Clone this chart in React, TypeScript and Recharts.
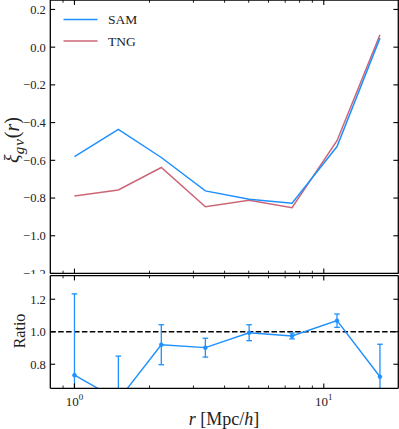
import React from 'react';
import { LineChart, Line, XAxis, YAxis, ReferenceLine, ReferenceArea, ErrorBar, Legend } from 'recharts';

// ---- data ----
const rBins = [1.0, 1.5, 2.23, 3.35, 5.02, 7.46, 11.3, 16.8];
const samXi = [-0.58, -0.436, -0.585, -0.762, -0.806, -0.828, -0.527, 0.048];
const tngXi = [-0.789, -0.757, -0.638, -0.846, -0.812, -0.851, -0.496, 0.066];
const ratioVals = [0.733, 0.58, 0.92, 0.902, 0.994, 0.974, 1.068, 0.723];
const ratioErr = [0.5, 0.27, 0.123, 0.058, 0.049, 0.018, 0.041, 0.2];
const xTicks = [0.9, 1, 2, 3, 4, 5, 6, 7, 8, 9, 10];
const xMajor = [1, 10];
const xiTicks = [-1.2, -1.0, -0.8, -0.6, -0.4, -0.2, 0.0, 0.2];
const ratioTicks = [0.8, 1.0, 1.2];
const seriesNames = ['SAM', 'TNG'];
const seriesColors = ['#1E90FF', '#CC6677'];

const topData = rBins.map((r, i) => ({ r, SAM: samXi[i], TNG: tngXi[i] }));
const ratioData = rBins.map((r, i) => ({ r, ratio: ratioVals[i], err: ratioErr[i] }));

const X_DOMAIN: [number, number] = [0.8, 19.9];
const XI_DOMAIN: [number, number] = [-1.2, 0.25];
const RATIO_DOMAIN: [number, number] = [0.652, 1.346];

const FONT = '"Liberation Serif", "DejaVu Serif", serif';
const TXT = '#222';
const frame = { stroke: '#000', strokeWidth: 1.3 };
const EPS = 0.01;

const fmt = (v: number) => {
  const s = Math.abs(v).toFixed(1);
  return v < -1e-9 ? '\u2212' + s : s;
};

const XTick = (props: any) => {
  const { x, y, payload, dir, labelOnly } = props;
  const v = payload.value;
  const major = xMajor.includes(v);
  if (labelOnly) {
    if (!major) return <g />;
    return (
      <text x={x} y={y + 18} textAnchor="middle" fontFamily={FONT} fontSize={13} fill={TXT}>
        10
        <tspan dy={-6} fontSize={9}>{Math.round(Math.log10(v))}</tspan>
      </text>
    );
  }
  const len = major ? 4.9 : 2.8;
  const y2 = dir === 'up' ? y - len : y + len;
  return <line x1={x} x2={x} y1={y} y2={y2} stroke="#000" strokeWidth={major ? 1.1 : 0.85} />;
};

const YTick = (props: any) => {
  const { x, y, payload, side } = props;
  const len = 4.9;
  if (side === 'right') {
    return <line x1={x} x2={x - len} y1={y} y2={y} stroke="#000" strokeWidth={1.1} />;
  }
  return (
    <g>
      <line x1={x} x2={x + len} y1={y} y2={y} stroke="#000" strokeWidth={1.1} />
      <text x={x - 4.5} y={y} dy="0.35em" textAnchor="end" fontFamily={FONT} fontSize={12.5} fill={TXT}>
        {fmt(payload.value)}
      </text>
    </g>
  );
};

const renderLegend = () => (
  <svg width={110} height={52} style={{ display: 'block' }}>
    {seriesNames.map((name, i) => {
      const y = 19.5 + i * 21.5;
      return (
        <g key={name}>
          <line x1={8.5} x2={42.5} y1={y} y2={y} stroke={seriesColors[i]} strokeWidth={1.5} />
          <text x={53} y={y} dy="0.36em" fontFamily={FONT} fontSize={13.5} fill={TXT}>{name}</text>
        </g>
      );
    })}
  </svg>
);

const xAxisCommon = {
  dataKey: 'r', type: 'number' as const, scale: 'log' as const, domain: X_DOMAIN, allowDataOverflow: true,
  ticks: xTicks, interval: 0, tickSize: 0, tickMargin: 0, tickLine: false,
};

export default function App() {
  return (
    <div style={{ position: 'absolute', left: 0, top: 0, width: 399, height: 429, background: '#fff' }}>
      {/* upper panel */}
      <div style={{ position: 'absolute', left: 0, top: 0 }}>
        <LineChart width={399} height={274} data={topData} margin={{ top: 0, right: 0.7, bottom: 0.5, left: 0.3 }}>
          <XAxis xAxisId="b" {...xAxisCommon} height={EPS} axisLine={frame}
            tick={(p: any) => <XTick {...p} dir="up" />} />
          <XAxis xAxisId="t" orientation="top" {...xAxisCommon} height={EPS} axisLine={frame}
            tick={(p: any) => <XTick {...p} dir="down" />} />
          <YAxis yAxisId="l" type="number" domain={XI_DOMAIN} allowDataOverflow ticks={xiTicks} interval={0}
            width={50} tickSize={0} tickMargin={0} tickLine={false} axisLine={frame}
            tick={(p: any) => <YTick {...p} side="left" />} />
          <YAxis yAxisId="r" orientation="right" type="number" domain={XI_DOMAIN} allowDataOverflow ticks={xiTicks} interval={0}
            width={EPS} tickSize={0} tickMargin={0} tickLine={false} axisLine={frame}
            tick={(p: any) => <YTick {...p} side="right" />} />
          <ReferenceArea xAxisId="b" yAxisId="l" fill="none" stroke="#000" strokeWidth={1.3} />
          <Line xAxisId="b" yAxisId="l" dataKey="TNG" stroke={seriesColors[1]} strokeWidth={1.5} dot={false} isAnimationActive={false} />
          <Line xAxisId="b" yAxisId="l" dataKey="SAM" stroke={seriesColors[0]} strokeWidth={1.5} dot={false} isAnimationActive={false} />
          <Legend layout="vertical" align="center" verticalAlign="middle" content={renderLegend}
            wrapperStyle={{ left: 55, top: 0, width: 110, height: 52 }} />
        </LineChart>
      </div>
      {/* ratio panel (svg ends at plot bottom so overflowing error bars are clipped) */}
      <div style={{ position: 'absolute', left: 0, top: 275 }}>
        <LineChart width={399} height={114} data={ratioData} margin={{ top: 0.5, right: 0.7, bottom: 0.7, left: 0.3 }}>
          <XAxis xAxisId="b" {...xAxisCommon} height={EPS} axisLine={frame}
            tick={(p: any) => <XTick {...p} dir="up" />} />
          <XAxis xAxisId="t" orientation="top" {...xAxisCommon} height={EPS} axisLine={frame}
            tick={(p: any) => <XTick {...p} dir="down" />} />
          <YAxis yAxisId="l" type="number" domain={RATIO_DOMAIN} allowDataOverflow ticks={ratioTicks} interval={0}
            width={50} tickSize={0} tickMargin={0} tickLine={false} axisLine={frame}
            tick={(p: any) => <YTick {...p} side="left" />} />
          <YAxis yAxisId="r" orientation="right" type="number" domain={RATIO_DOMAIN} allowDataOverflow ticks={ratioTicks} interval={0}
            width={EPS} tickSize={0} tickMargin={0} tickLine={false} axisLine={frame}
            tick={(p: any) => <YTick {...p} side="right" />} />
          <ReferenceArea xAxisId="b" yAxisId="l" fill="none" stroke="#000" strokeWidth={1.3} />
          <ReferenceLine xAxisId="b" yAxisId="l" y={1} stroke="#000" strokeWidth={1.4} strokeDasharray="5.5 2.4" />
          <Line xAxisId="b" yAxisId="l" dataKey="ratio" stroke={seriesColors[0]} strokeWidth={1.4}
            dot={{ r: 2, fill: seriesColors[0], stroke: seriesColors[0], strokeWidth: 0.5 }} isAnimationActive={false}>
            <ErrorBar dataKey="err" direction="y" width={2.8} stroke={seriesColors[0]} strokeWidth={1.3} isAnimationActive={false} />
          </Line>
        </LineChart>
      </div>
      {/* x tick labels of the ratio panel, same log scale */}
      <div style={{ position: 'absolute', left: 0, top: 379 }}>
        <LineChart width={399} height={50} data={ratioData} margin={{ top: 0, right: 0.7, bottom: 0, left: 50.3 }}>
          <XAxis xAxisId="b" {...xAxisCommon} height={40.7} axisLine={false}
            tick={(p: any) => <XTick {...p} labelOnly />} />
        </LineChart>
      </div>
      <div style={{ position: 'absolute', left: 12, top: 140, transform: 'translate(-50%, -50%) rotate(-90deg)',
        fontFamily: FONT, fontSize: 20, color: TXT, whiteSpace: 'nowrap', lineHeight: 1 }}>
        <i>ξ</i><i style={{ fontSize: 15, position: 'relative', top: 5, letterSpacing: 1 }}>gv</i>(<i>r</i>)
      </div>
      <div style={{ position: 'absolute', left: 20, top: 331, transform: 'translate(-50%, -50%) rotate(-90deg)',
        fontFamily: FONT, fontSize: 16, color: TXT, whiteSpace: 'nowrap', lineHeight: 1 }}>
        Ratio
      </div>
      <div style={{ position: 'absolute', left: 224, top: 419, transform: 'translate(-50%, -50%)',
        fontFamily: FONT, fontSize: 18, color: TXT, whiteSpace: 'nowrap', lineHeight: 1 }}>
        <i>r</i> [Mpc/<i>h</i>]
      </div>
    </div>
  );
}
